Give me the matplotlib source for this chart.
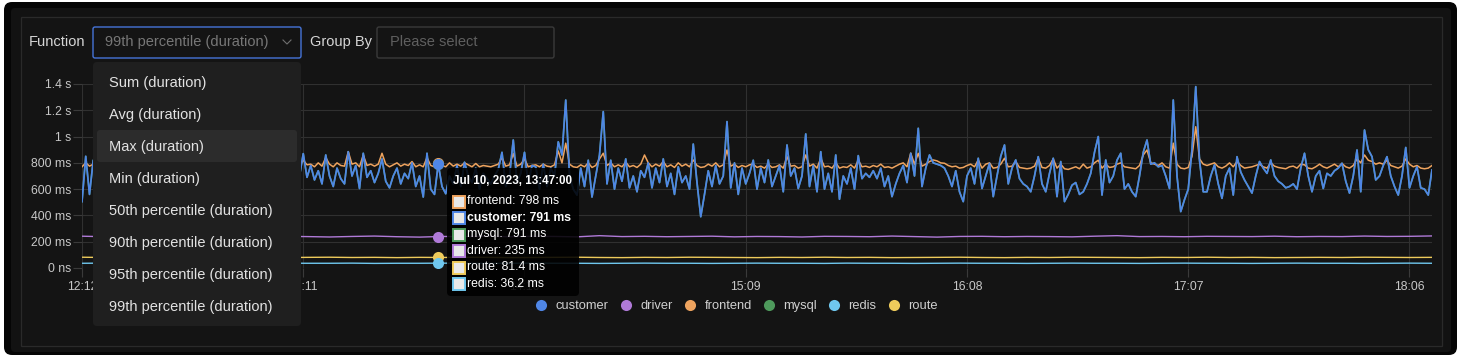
import matplotlib.pyplot as plt
from matplotlib.patches import FancyBboxPatch, Rectangle
from matplotlib.lines import Line2D
import pandas as pd

plt.rcParams['font.family'] = ['Liberation Sans', 'DejaVu Sans']
plt.rcParams['lines.solid_joinstyle'] = 'round'

# ---------------- DATA ----------------
start = '2023-07-10 12:12'

customer = [
    505, 850, 560, 820, 640, 760, 600, 700, 830, 650,
    720, 590, 780, 860, 620, 700, 560, 740, 810, 630,
    680, 900, 610, 750, 580, 690, 840, 600, 720, 650,
    790, 560, 700, 870, 640, 610, 760, 590, 820, 680,
    600, 740, 950, 620, 700, 580, 780, 660, 840, 610,
    720, 590, 690, 810, 600, 760, 640, 880, 700, 870,
    690, 780, 670, 740, 640, 860, 700, 620, 760, 680,
    640, 885, 700, 780, 605, 873, 690, 740, 650, 720,
    830, 660, 610, 700, 760, 640, 720, 680, 800, 620,
    700, 540, 873, 600, 560, 791, 620, 565, 700, 640,
    780, 620, 805, 700, 650, 760, 600, 720, 680, 640,
    700, 750, 880, 620, 700, 974, 650, 720, 880, 640,
    780, 770, 600, 790, 620, 760, 700, 960, 860, 1278,
    700, 600, 555, 760, 620, 820, 540, 700, 860, 1190,
    640, 820, 600, 760, 660, 830, 610, 700, 580, 740,
    690, 800, 610, 760, 650, 830, 620, 720, 560, 770,
    650, 700, 600, 943, 650, 390, 560, 740, 620, 780,
    640, 700, 1114, 610, 800, 560, 760, 640, 720, 820,
    600, 760, 650, 822, 620, 700, 780, 580, 936, 700,
    760, 605, 700, 1020, 620, 780, 580, 885, 600, 720,
    580, 860, 523, 700, 640, 760, 600, 855, 680, 720,
    690, 740, 680, 760, 620, 700, 543, 640, 720, 780,
    650, 873, 700, 1063, 620, 760, 860, 800, 790, 780,
    760, 700, 620, 740, 580, 505, 700, 760, 640, 835,
    605, 700, 797, 543, 700, 850, 936, 640, 760, 822,
    680, 640, 620, 580, 700, 847, 640, 580, 720, 835,
    543, 810, 505, 560, 630, 650, 560, 580, 640, 720,
    880, 1000, 555, 822, 650, 700, 820, 873, 600, 640,
    580, 543, 700, 880, 974, 790, 800, 770, 780, 700,
    605, 1278, 700, 429, 520, 600, 900, 1380, 820, 580,
    580, 700, 785, 640, 530, 700, 760, 555, 847, 730,
    670, 620, 570, 700, 810, 760, 720, 822, 700, 660,
    640, 610, 620, 640, 600, 760, 873, 700, 580, 700,
    740, 605, 720, 700, 740, 760, 797, 660, 570, 700,
    898, 580, 1050, 900, 847, 670, 700, 780, 847, 700,
    620, 555, 700, 917, 610, 700, 770, 610, 600, 555, 746,
]

frontend = [
    770, 800, 775, 790, 760, 780, 770, 805, 775, 760,
    780, 770, 795, 820, 770, 765, 780, 790, 800, 770,
    775, 840, 770, 785, 760, 775, 810, 770, 780, 765,
    790, 770, 775, 830, 780, 765, 790, 770, 800, 775,
    765, 785, 880, 775, 770, 765, 790, 770, 810, 770,
    780, 765, 775, 800, 770, 790, 765, 840, 780, 820,
    785, 790, 770, 800, 775, 840, 790, 770, 800, 780,
    775, 885, 790, 800, 770, 860, 780, 790, 775, 790,
    873, 790, 770, 785, 800, 775, 790, 780, 810, 770,
    785, 770, 840, 780, 770, 798, 780, 770, 800, 775,
    790, 775, 800, 785, 770, 795, 770, 780, 775, 770,
    780, 790, 840, 775, 785, 870, 775, 790, 830, 770,
    780, 785, 770, 790, 775, 770, 785, 890, 800, 950,
    790, 770, 765, 785, 770, 800, 765, 780, 830, 873,
    780, 800, 770, 785, 770, 805, 770, 780, 765, 790,
    860, 800, 770, 790, 775, 810, 770, 785, 765, 800,
    775, 790, 770, 822, 780, 765, 770, 790, 775, 800,
    770, 785, 898, 775, 790, 765, 780, 770, 785, 790,
    765, 775, 760, 790, 765, 770, 785, 760, 847, 775,
    780, 760, 770, 860, 775, 790, 760, 835, 770, 775,
    760, 800, 760, 770, 765, 785, 760, 820, 770, 775,
    765, 780, 770, 790, 765, 770, 760, 775, 790, 800,
    770, 873, 790, 873, 775, 790, 810, 822, 815, 800,
    797, 780, 770, 775, 760, 765, 780, 790, 770, 822,
    760, 790, 800, 760, 765, 790, 835, 770, 775, 810,
    765, 760, 755, 760, 775, 835, 765, 760, 780, 830,
    760, 790, 755, 750, 760, 770, 755, 790, 760, 770,
    800, 820, 760, 790, 765, 770, 790, 800, 770, 765,
    760, 755, 780, 860, 898, 800, 790, 780, 800, 770,
    760, 950, 790, 760, 755, 765, 850, 1075, 830, 790,
    780, 790, 800, 770, 760, 775, 800, 770, 810, 780,
    760, 765, 770, 780, 790, 770, 760, 800, 775, 765,
    760, 755, 770, 775, 760, 790, 785, 760, 755, 770,
    790, 770, 760, 775, 790, 770, 795, 770, 760, 780,
    830, 800, 860, 820, 810, 790, 800, 790, 820, 780,
    770, 760, 775, 830, 790, 770, 780, 760, 755, 760, 780,
]

mysql = customer  # same values as customer, drawn underneath

# slow series sampled every 6 minutes
driver = [242, 238, 240, 236, 241, 239, 244, 240, 237, 241, 239, 236, 240, 243, 238, 235,
          240, 239, 242, 238, 241, 240, 237, 246, 239, 241, 238, 240, 242, 237, 240, 239,
          236, 241, 240, 238, 243, 239, 235, 240, 241, 238, 240, 239, 237, 242, 246, 239,
          240, 238, 241, 240, 239, 242, 238, 240, 239, 243, 240, 241, 244]
route = [82, 80, 81, 79, 82, 80, 81, 83, 80, 79, 81, 82, 80, 81, 79, 81,
         80, 82, 81, 79, 80, 81, 82, 80, 79, 81, 80, 82, 81, 80, 79, 81,
         80, 82, 80, 81, 79, 80, 81, 82, 80, 79, 81, 80, 82, 81, 80, 79,
         81, 80, 82, 80, 81, 79, 80, 81, 80, 82, 81, 80, 81]
redis = [36, 37, 36, 35, 36, 37, 36, 36, 35, 37, 36, 36, 37, 35, 36, 36,
         37, 36, 35, 36, 37, 36, 36, 35, 36, 37, 36, 36, 35, 36, 37, 36,
         36, 35, 37, 36, 36, 35, 36, 37, 36, 36, 35, 36, 37, 36, 36, 35,
         36, 37, 36, 36, 35, 36, 37, 36, 36, 35, 36, 37, 36]

series_names = ['customer', 'driver', 'frontend', 'mysql', 'redis', 'route']
colors = {'customer': '#4f86e6', 'driver': '#b07ad8', 'frontend': '#eea35e',
          'mysql': '#4e9a5c', 'redis': '#6fc7ee', 'route': '#eecb5b'}

y_ticks = [0, 200, 400, 600, 800, 1000, 1200, 1400]
y_tick_labels = ['0 ns', '200 ms', '400 ms', '600 ms', '800 ms', '1 s', '1.2 s', '1.4 s']
x_tick_labels = ['12:12', '13:11', '14:10', '15:09', '16:08', '17:07', '18:06']

hover_time = '2023-07-10 13:47'
hover_title = 'Jul 10, 2023, 13:47:00'
hover_names = ['frontend', 'customer', 'mysql', 'driver', 'route', 'redis']
hover_vals = [798, 791, 791, 235, 81.4, 36.2]

menu_items = ['Sum (duration)', 'Avg (duration)', 'Max (duration)', 'Min (duration)',
              '50th percentile (duration)', '90th percentile (duration)',
              '95th percentile (duration)', '99th percentile (duration)']

times = pd.date_range(start, periods=len(customer), freq='min')
slow_times = pd.date_range(start, periods=len(driver), freq='6min')
tick_times = pd.date_range(start, periods=len(x_tick_labels), freq='59min')

# ---------------- FIGURE ----------------
W, H = 1465, 362
fig = plt.figure(figsize=(W / 100, H / 100), dpi=100)
fig.patch.set_facecolor('white')


def px(x, y, w, h):
    return [x / W, 1 - (y + h) / H, w / W, h / H]


bg = fig.add_axes([0, 0, 1, 1], zorder=0)
bg.set_xlim(0, W)
bg.set_ylim(H, 0)
bg.axis('off')
bg.add_patch(FancyBboxPatch((4, 2), 1453, 353, boxstyle='round,pad=0,rounding_size=8',
                            fc='#050505', ec='none'))
bg.add_patch(FancyBboxPatch((11, 8), 1440, 344, boxstyle='round,pad=0,rounding_size=4',
                            fc='#121212', ec='none'))
bg.add_patch(Rectangle((21, 17), 1421, 329, fc='#141414', ec='#2a2a2a', lw=0.9))

# controls row
txt = dict(color='#d6d6d6', fontsize=10.5, va='center')
bg.text(29, 42, 'Function', **txt)
bg.add_patch(FancyBboxPatch((93, 27), 208, 31, boxstyle='round,pad=0,rounding_size=2',
                            fc='#141414', ec='#4674d8', lw=1.0))
bg.text(105, 42, '99th percentile (duration)', color='#777777', fontsize=10.5, va='center')
bg.plot([283, 287, 291], [40, 44, 40], color='#6f6f6f', lw=0.8)
bg.text(310, 42, 'Group By', **txt)
bg.add_patch(FancyBboxPatch((377, 27), 177, 31, boxstyle='round,pad=0,rounding_size=2',
                            fc='#141414', ec='#3a3a3a', lw=1.0))
bg.text(390, 42, 'Please select', color='#5f5f5f', fontsize=10.5, va='center')

# ---------------- CHART ----------------
ax = fig.add_axes(px(82, 84, 1350, 184), zorder=1)
ax.set_facecolor('none')
ax.plot(times, mysql, color=colors['mysql'], lw=1.2)
ax.plot(slow_times, driver, color=colors['driver'], lw=1.0)
ax.plot(times, frontend, color=colors['frontend'], lw=1.1)
ax.plot(slow_times, route, color=colors['route'], lw=1.0)
ax.plot(slow_times, redis, color=colors['redis'], lw=1.0)
ax.plot(times, customer, color=colors['customer'], lw=1.25)

ax.set_xlim(times[0], times[-1])
ax.set_ylim(0, 1400)
ax.set_yticks(y_ticks)
ax.set_yticklabels(y_tick_labels)
ax.set_xticks(tick_times)
ax.set_xticklabels(x_tick_labels)
ax.grid(True, color='#303030', lw=0.8)
ax.tick_params(axis='y', length=6.5, width=0.8, color='#3a3a3a', pad=1, labelsize=8.8,
               labelcolor='#c8c8c8')
ax.tick_params(axis='x', length=6.5, width=0.8, color='#3a3a3a', pad=3, labelsize=8.8,
               labelcolor='#c8c8c8')
for s in ax.spines.values():
    s.set_visible(False)

# hover markers
ht = pd.Timestamp(hover_time)
for name, v in sorted(zip(hover_names, hover_vals), key=lambda p: p[0] == 'customer'):
    ax.plot([ht], [v], 'o', ms=8, color=colors[name], mec='none', zorder=5)

# legend
handles = [Line2D([], [], ls='none', marker='o', ms=8, color=colors[n], mec='none')
           for n in series_names]
fig.legend(handles, series_names, loc='center', bbox_to_anchor=(737 / W, 1 - 306 / H),
           ncol=6, frameon=False, fontsize=9.3, labelcolor='#d0d0d0', handlelength=0.8,
           handletextpad=0.7, columnspacing=0.95, borderpad=0)

# ---------------- OVERLAYS ----------------
fg = fig.add_axes([0, 0, 1, 1], zorder=3)
fg.set_xlim(0, W)
fg.set_ylim(H, 0)
fg.axis('off')
fg.patch.set_alpha(0)

# dropdown menu
fg.add_patch(FancyBboxPatch((93, 62), 208, 264, boxstyle='round,pad=0,rounding_size=4',
                            fc='#1f1f1f', ec='none'))
fg.add_patch(FancyBboxPatch((97, 130), 200, 32, boxstyle='round,pad=0,rounding_size=3',
                            fc='#2c2c2c', ec='none'))
for i, item in enumerate(menu_items):
    fg.text(109, 82.5 + 32 * i, item, color='#e2e2e2', fontsize=10.5, va='center')

# tooltip
fg.add_patch(FancyBboxPatch((447, 168), 132, 128, boxstyle='round,pad=0,rounding_size=4',
                            fc='black', ec='none', alpha=0.88))
fg.text(453, 181, hover_title, color='white', fontsize=8.4, fontweight='bold', va='center')
for i, (name, v) in enumerate(zip(hover_names, hover_vals)):
    yy = 201.5 + 16.5 * i
    fg.add_patch(Rectangle((453, yy - 6), 12, 12, fc='#e8e8e8', ec=colors[name], lw=1.4))
    fg.text(467, yy, f'{name}: {v:g} ms', color='white', fontsize=8.8, va='center',
            fontweight='bold' if name == 'customer' else 'normal')

fig.savefig('out.png', dpi=100, facecolor=fig.get_facecolor())
